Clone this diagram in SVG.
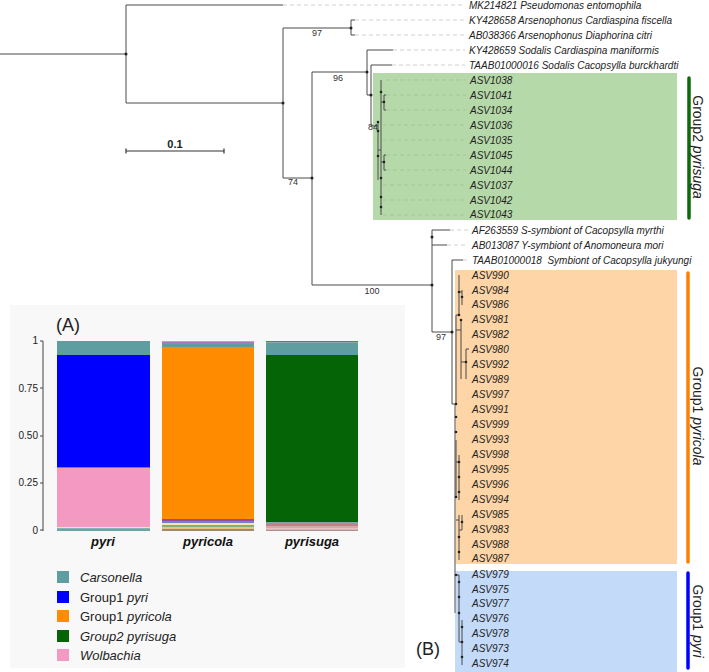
<svg xmlns="http://www.w3.org/2000/svg" width="709" height="672" viewBox="0 0 709 672">
<style>
.t{font-family:"Liberation Sans",Arial,sans-serif;font-size:10px;font-style:italic;fill:#222}
.bs{font-family:"Liberation Sans",Arial,sans-serif;font-size:9px;fill:#333}
.br{stroke:#4a4a4a;stroke-width:1;fill:none}
.ld{stroke:#c4c4c4;stroke-width:0.8;stroke-dasharray:4 3;fill:none}
.lg{stroke:#9cc08e;stroke-width:0.7;stroke-dasharray:4 3;fill:none}
.dot{fill:#222}
.ax{font-family:"Liberation Sans",Arial,sans-serif;font-size:10px;fill:#222}
.lab{font-family:"Liberation Sans",Arial,sans-serif;font-size:13px;font-weight:bold;font-style:italic;fill:#111;text-anchor:middle}
.leg{font-family:"Liberation Sans",Arial,sans-serif;font-size:13px;fill:#222}
.grp{font-family:"Liberation Sans",Arial,sans-serif;font-size:14px;fill:#222}
.pl{font-family:"Liberation Sans",Arial,sans-serif;font-size:18px;fill:#222}
</style>

<!-- panel A background -->
<rect x="10" y="305" width="395" height="363" fill="#f8f8f8"/>

<!-- clade boxes -->
<g id="box-group2">
<rect x="373" y="73" width="304" height="147" fill="#b6d9a9"/>
<line x1="689" y1="78" x2="689" y2="218" stroke="#0b6b0b" stroke-width="3.5" stroke-linecap="round"/>
<text class="grp" transform="translate(698,147) rotate(90)" text-anchor="middle" dominant-baseline="central">Group2 <tspan font-style="italic">pyrisuga</tspan></text>
</g>
<g id="box-pyricola">
<rect x="455" y="270" width="222" height="294" fill="#fdd5a6"/>
<line x1="688" y1="273" x2="688" y2="562" stroke="#ff8000" stroke-width="3.5" stroke-linecap="round"/>
<text class="grp" transform="translate(698,416) rotate(90)" text-anchor="middle" dominant-baseline="central">Group1 <tspan font-style="italic">pyricola</tspan></text>
</g>
<g id="box-pyri">
<rect x="455" y="571" width="222" height="101" fill="#c3daf9"/>
<line x1="688" y1="573" x2="688" y2="668" stroke="#0000ff" stroke-width="3.5" stroke-linecap="round"/>
<text class="grp" transform="translate(698,621) rotate(90)" text-anchor="middle" dominant-baseline="central">Group1 <tspan font-style="italic">pyri</tspan></text>
</g>

<!-- connectors: tree branches -->
<g id="connectors">
<path class="br" d="M0,54H126M126,5V103M126,5H283M126,103H283M283,28V178M283,28H351M351,20V35M351,20H355M351,35H355M283,178H312M312,72V285M312,72H367M367,50V95M367,50H393M367,95H371M371,65V126M371,65H392M312,285H432M432,230V332M432,230H450M432,245H447M432,332H452M452,260V404M452,260H463M452,404H456"/>
<path class="ld" d="M283,5H465M355,20H465M355,35H465M393,50H465M392,65H465M450,230H468M447,245H468M463,260H468"/>
<!-- green clade -->
<path class="br" d="M371,126H378M378,121V180M378,150H381M381,80V215M381,102H384M384,95V110M381,162H384M384,155V170M384,95H386M384,110H386M384,155H386M384,170H386"/>
<path class="lg" d="M386,80H466M386,95H466M386,110H466M383,125H466M383,140H466M386,155H466M386,170H466M383,185H466M383,200H466M383,215H466"/>
<!-- orange clade -->
<path class="br" d="M456,315V404M456,315H459M459,275V315M459,292H462M462,290V305M456,330H461M461,320V379M461,362H466M466,349V379M466,349H469"/>
<path d="M455,404V613" stroke="#8a8a8a" stroke-width="1.5" fill="none"/>
<path class="br" d="M456,440V497M456,462H459M459,455V500M456,520H459M459,515V560M459,530H462M462,515V530M456,575H459M459,575V642M459,642H462M462,620V665"/>
</g>

<!-- node dots -->
<g id="dots">
<circle class="dot" cx="126" cy="54" r="1.5"/>
<circle class="dot" cx="283" cy="103" r="1.5"/>
<circle class="dot" cx="351" cy="28" r="1.5"/>
<circle class="dot" cx="312" cy="178" r="1.5"/>
<circle class="dot" cx="367" cy="72" r="1.5"/>
<circle class="dot" cx="371" cy="95" r="1.5"/>
<circle class="dot" cx="381" cy="92" r="1.3"/>
<circle class="dot" cx="384" cy="102" r="1.3"/>
<circle class="dot" cx="378" cy="122" r="1.3"/>
<circle class="dot" cx="378" cy="131" r="1.3"/>
<circle class="dot" cx="378" cy="156" r="1.3"/>
<circle class="dot" cx="384" cy="162" r="1.3"/>
<circle class="dot" cx="381" cy="178" r="1.3"/>
<circle class="dot" cx="381" cy="197" r="1.3"/>
<circle class="dot" cx="381" cy="207" r="1.3"/>
<circle class="dot" cx="432" cy="237" r="1.5"/>
<circle class="dot" cx="432" cy="285" r="1.5"/>
<circle class="dot" cx="452" cy="332" r="1.5"/>
<circle class="dot" cx="459" cy="292" r="1.3"/>
<circle class="dot" cx="462" cy="297" r="1.3"/>
<circle class="dot" cx="459" cy="315" r="1.3"/>
<circle class="dot" cx="461" cy="320" r="1.3"/>
<circle class="dot" cx="466" cy="362" r="1.3"/>
<circle class="dot" cx="456" cy="404" r="1.3"/>
<circle class="dot" cx="456" cy="417" r="1.3"/>
<circle class="dot" cx="456" cy="432" r="1.3"/>
<circle class="dot" cx="459" cy="462" r="1.3"/>
<circle class="dot" cx="459" cy="477" r="1.3"/>
<circle class="dot" cx="459" cy="492" r="1.3"/>
<circle class="dot" cx="456" cy="497" r="1.3"/>
<circle class="dot" cx="462" cy="522" r="1.3"/>
<circle class="dot" cx="459" cy="537" r="1.3"/>
<circle class="dot" cx="459" cy="552" r="1.3"/>
<circle class="dot" cx="456" cy="575" r="1.3"/>
<circle class="dot" cx="459" cy="582" r="1.3"/>
<circle class="dot" cx="459" cy="597" r="1.3"/>
<circle class="dot" cx="459" cy="613" r="1.3"/>
<circle class="dot" cx="462" cy="627" r="1.3"/>
<circle class="dot" cx="462" cy="642" r="1.3"/>
<circle class="dot" cx="462" cy="657" r="1.3"/>
</g>

<!-- bootstrap labels -->
<g id="bootstrap">
<text class="bs" x="317" y="36" text-anchor="middle">97</text>
<text class="bs" x="338" y="81" text-anchor="middle">96</text>
<text class="bs" x="373" y="130" text-anchor="middle">84</text>
<text class="bs" x="293" y="185" text-anchor="middle">74</text>
<text class="bs" x="372" y="294" text-anchor="middle">100</text>
<text class="bs" x="441" y="340" text-anchor="middle">97</text>
</g>

<!-- leaves -->
<g id="leaves-top">
<text class="t" x="469" y="8.5">MK214821 Pseudomonas entomophila</text>
<text class="t" x="469" y="23.5">KY428658 Arsenophonus Cardiaspina fiscella</text>
<text class="t" x="469" y="38.5">AB038366 Arsenophonus Diaphorina citri</text>
<text class="t" x="469" y="53.5">KY428659 Sodalis Cardiaspina maniformis</text>
<text class="t" x="469" y="68.5">TAAB01000016 Sodalis Cacopsylla burckhardti</text>
</g>
<g id="leaves-group2">
<text class="t" x="470" y="83.5">ASV1038</text>
<text class="t" x="470" y="98.5">ASV1041</text>
<text class="t" x="470" y="113.5">ASV1034</text>
<text class="t" x="470" y="128.5">ASV1036</text>
<text class="t" x="470" y="143.5">ASV1035</text>
<text class="t" x="470" y="158.5">ASV1045</text>
<text class="t" x="470" y="173.5">ASV1044</text>
<text class="t" x="470" y="188.5">ASV1037</text>
<text class="t" x="470" y="203.5">ASV1042</text>
<text class="t" x="470" y="218">ASV1043</text>
</g>
<g id="leaves-mid">
<text class="t" x="472" y="233.5">AF263559 S-symbiont of Cacopsylla myrthi</text>
<text class="t" x="472" y="248.5">AB013087 Y-symbiont of Anomoneura mori</text>
<text class="t" x="472" y="263.5" xml:space="preserve">TAAB01000018  Symbiont of Cacopsylla jukyungi</text>
</g>
<g id="leaves-pyricola">
<text class="t" x="472" y="278.5">ASV990</text>
<text class="t" x="472" y="293.5">ASV984</text>
<text class="t" x="472" y="308.4">ASV986</text>
<text class="t" x="472" y="323.4">ASV981</text>
<text class="t" x="472" y="338.3">ASV982</text>
<text class="t" x="472" y="353.3">ASV980</text>
<text class="t" x="472" y="368.2">ASV992</text>
<text class="t" x="472" y="383.2">ASV989</text>
<text class="t" x="472" y="398.1">ASV997</text>
<text class="t" x="472" y="413.1">ASV991</text>
<text class="t" x="472" y="428">ASV999</text>
<text class="t" x="472" y="443">ASV993</text>
<text class="t" x="472" y="457.9">ASV998</text>
<text class="t" x="472" y="472.9">ASV995</text>
<text class="t" x="472" y="487.8">ASV996</text>
<text class="t" x="472" y="502.8">ASV994</text>
<text class="t" x="472" y="517.7">ASV985</text>
<text class="t" x="472" y="532.7">ASV983</text>
<text class="t" x="472" y="547.6">ASV988</text>
<text class="t" x="472" y="562.3">ASV987</text>
</g>
<g id="leaves-pyri">
<text class="t" x="472" y="577.5">ASV979</text>
<text class="t" x="472" y="592.5">ASV975</text>
<text class="t" x="472" y="607.4">ASV977</text>
<text class="t" x="472" y="622.4">ASV976</text>
<text class="t" x="472" y="637.3">ASV978</text>
<text class="t" x="472" y="652.3">ASV973</text>
<text class="t" x="472" y="667.2">ASV974</text>
</g>

<!-- scale bar -->
<g id="scalebar">
<path d="M126,151H224M126,148.5V153.5M224,148.5V153.5" stroke="#333" stroke-width="1.2" fill="none"/>
<text x="175" y="148" text-anchor="middle" font-family="Liberation Sans,Arial,sans-serif" font-size="11" font-weight="bold" fill="#222">0.1</text>
</g>

<text class="pl" x="56" y="331">(A)</text>
<text class="pl" x="416" y="655">(B)</text>

<!-- bar chart -->
<g id="axis">
<path d="M43,341V531M40,341H43M40,388H43M40,436H43M40,483H43M40,530H43" stroke="#444" stroke-width="1" fill="none"/>
<text class="ax" x="38" y="344" text-anchor="end">1</text>
<text class="ax" x="38" y="392" text-anchor="end">0.75</text>
<text class="ax" x="38" y="439" text-anchor="end">0.50</text>
<text class="ax" x="38" y="486" text-anchor="end">0.25</text>
<text class="ax" x="38" y="534" text-anchor="end">0</text>
</g>
<g id="bar-pyri">
<rect x="57" y="341" width="93" height="14" fill="#5f9ea0"/>
<rect x="57" y="355" width="93" height="112" fill="#0000ff"/>
<rect x="57" y="467" width="93" height="1.5" fill="#e2553f"/>
<rect x="57" y="468.5" width="93" height="58.5" fill="#f49ac2"/>
<rect x="57" y="527" width="93" height="1.2" fill="#fbe3a8"/>
<rect x="57" y="528.2" width="93" height="2.8" fill="#6aa6a6"/>
<text class="lab" x="103" y="546">pyri</text>
</g>
<g id="bar-pyricola">
<rect x="162" y="341" width="92" height="1.2" fill="#7fd07f"/>
<rect x="162" y="342.2" width="92" height="1.6" fill="#9b59b6"/>
<rect x="162" y="343.8" width="92" height="3.2" fill="#5f9ea0"/>
<rect x="162" y="347" width="92" height="172" fill="#ff8c00"/>
<rect x="162" y="519" width="92" height="2" fill="#8a4fb0"/>
<rect x="162" y="521" width="92" height="2" fill="#7e7ec4"/>
<rect x="162" y="523" width="92" height="2" fill="#f6e7a6"/>
<rect x="162" y="525" width="92" height="2" fill="#7fb07f"/>
<rect x="162" y="527" width="92" height="2" fill="#f0c080"/>
<rect x="162" y="529" width="92" height="2" fill="#9e8a6a"/>
<text class="lab" x="208" y="546">pyricola</text>
</g>
<g id="bar-pyrisuga">
<rect x="266" y="341" width="92" height="1.3" fill="#c05050"/>
<rect x="266" y="342.3" width="92" height="12.7" fill="#5f9ea0"/>
<rect x="266" y="355" width="92" height="167" fill="#056405"/>
<rect x="266" y="522" width="92" height="2" fill="#8aa0a0"/>
<rect x="266" y="524" width="92" height="2" fill="#c08090"/>
<rect x="266" y="526" width="92" height="2" fill="#d8a8a8"/>
<rect x="266" y="528" width="92" height="1.5" fill="#e8c0c0"/>
<rect x="266" y="529.5" width="92" height="1.5" fill="#b09090"/>
<text class="lab" x="312" y="546">pyrisuga</text>
</g>

<!-- legend -->
<g id="legend">
<rect x="57" y="571" width="12" height="12" fill="#5f9ea0"/>
<text class="leg" x="80" y="582" font-style="italic">Carsonella</text>
<rect x="57" y="591" width="12" height="12" fill="#0000ff"/>
<text class="leg" x="80" y="602">Group1 <tspan font-style="italic">pyri</tspan></text>
<rect x="57" y="610" width="12" height="12" fill="#ff8c00"/>
<text class="leg" x="80" y="621">Group1 <tspan font-style="italic">pyricola</tspan></text>
<rect x="57" y="630" width="12" height="12" fill="#056405"/>
<text class="leg" x="80" y="641" font-style="italic">Group2 pyrisuga</text>
<rect x="57" y="649" width="12" height="12" fill="#f49ac2"/>
<text class="leg" x="80" y="660" font-style="italic">Wolbachia</text>
</g>
</svg>
